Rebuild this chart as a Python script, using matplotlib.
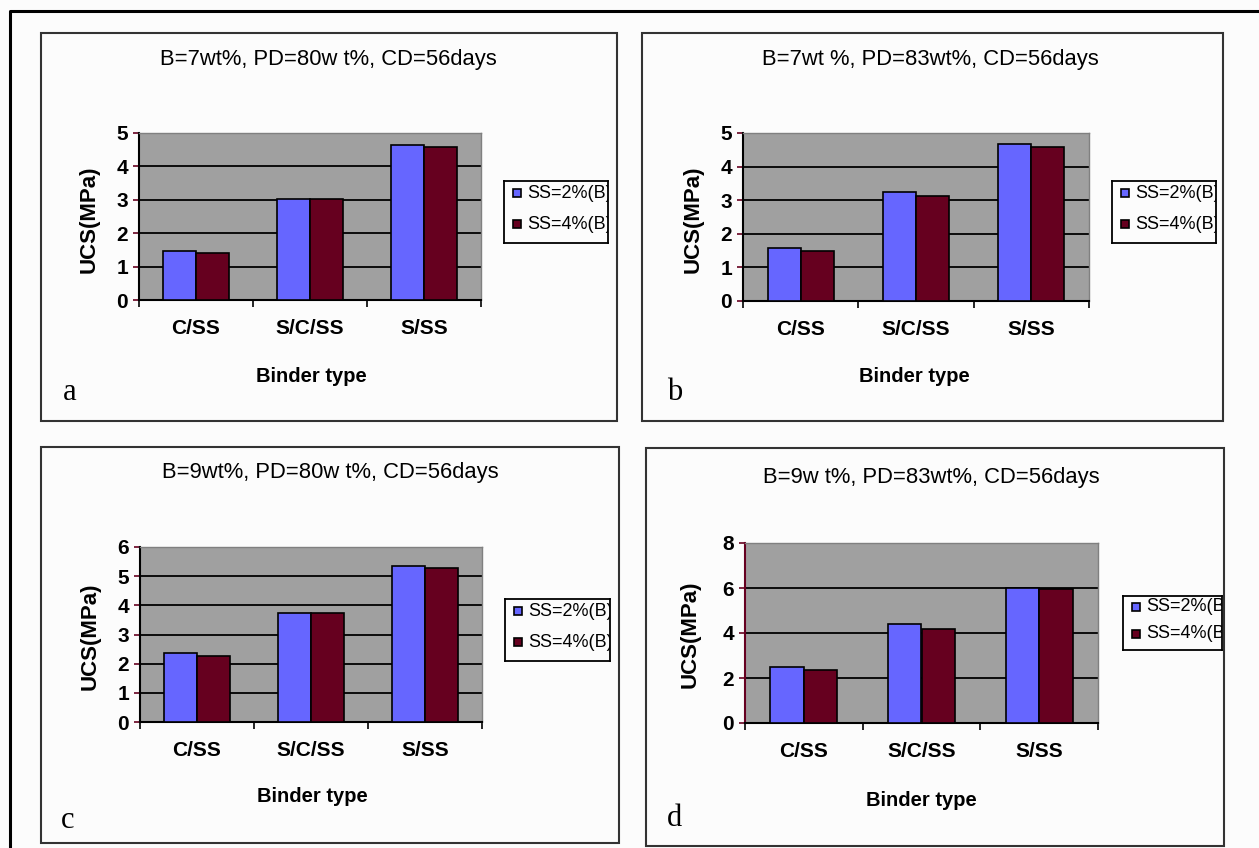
import numpy as np
import matplotlib
matplotlib.use('Agg')
import matplotlib.pyplot as plt
from matplotlib.patches import Rectangle
from matplotlib.lines import Line2D

W, H = 1259, 848

categories = ['C/SS', 'S/C/SS', 'S/SS']
series_labels = ['SS=2%(B)', 'SS=4%(B)']
titles = ['B=7wt%, PD=80w t%, CD=56days',
          'B=7wt %, PD=83wt%, CD=56days',
          'B=9wt%, PD=80w t%, CD=56days',
          'B=9w t%, PD=83wt%, CD=56days']
panel_letters = ['a', 'b', 'c', 'd']
ss2_a = [1.48, 3.03, 4.64]
ss4_a = [1.42, 3.03, 4.57]
ss2_b = [1.59, 3.25, 4.68]
ss4_b = [1.48, 3.13, 4.57]
ss2_c = [2.35, 3.75, 5.35]
ss4_c = [2.28, 3.75, 5.28]
ss2_d = [2.47, 4.41, 5.98]
ss4_d = [2.37, 4.18, 5.94]
y_max = [5, 5, 6, 8]
y_step = [1, 1, 1, 2]
xlabel = 'Binder type'
ylabel = 'UCS(MPa)'

ss2 = [ss2_a, ss2_b, ss2_c, ss2_d]
ss4 = [ss4_a, ss4_b, ss4_c, ss4_d]

# pixel layout of each panel: box, plot area, legend box, text anchors
layout = [
    dict(box=(41, 33, 617, 421), plot=(139, 133, 481, 300), leg=(504, 181, 608, 243),
         title=(328, 60), xl=(311, 376), yl=(89, 219), let=(70, 392), spine='black'),
    dict(box=(642, 33, 1223, 421), plot=(743, 133, 1089, 301), leg=(1112, 181, 1216, 243),
         title=(930, 60), xl=(914, 376), yl=(693, 219), let=(675, 392), spine='black'),
    dict(box=(41, 447, 619, 843), plot=(140, 547, 482, 722), leg=(505, 599, 610, 661),
         title=(330, 473), xl=(312, 797), yl=(90, 636), let=(68, 820), spine='black'),
    dict(box=(646, 448, 1224, 846), plot=(745, 543, 1098, 723), leg=(1123, 596, 1222, 650),
         title=(931, 478), xl=(921, 800), yl=(690, 634), let=(675, 818), spine='#660020'),
]

blue = '#6666ff'
red = '#66001f'
gray = '#a0a0a0'
sans = 'Liberation Sans'


def fx(x):
    return x / W


def fy(y):
    return 1 - y / H


def px_axes(l, t, r, b):
    return fig.add_axes([fx(l), fy(b), (r - l) / W, (b - t) / H])


fig = plt.figure(figsize=(W / 100, H / 100), dpi=100, facecolor='#fcfcfc')

# outer frame
fig.add_artist(Line2D([fx(10), fx(10), fx(1262)], [fy(850), fy(11), fy(11)],
                      transform=fig.transFigure, color='black', lw=2.2))

bw = 1 / 3.5
x = np.arange(len(categories))

for i, lay in enumerate(layout):
    l, t, r, b = lay['box']
    fig.add_artist(Rectangle((fx(l), fy(b)), (r - l) / W, (b - t) / H,
                             transform=fig.transFigure, fill=False,
                             edgecolor='#333333', lw=1.5))

    ax = px_axes(*lay['plot'])
    ax.set_facecolor(gray)
    ax.bar(x - bw / 2, ss2[i], bw, color=blue, edgecolor='black', lw=1.2, zorder=3)
    ax.bar(x + bw / 2, ss4[i], bw, color=red, edgecolor='black', lw=1.2, zorder=3)
    ax.set_xlim(-0.5, 2.5)
    ax.set_ylim(0, y_max[i])
    yt = np.arange(0, y_max[i] + 0.1, y_step[i])
    ax.set_yticks(yt)
    ax.set_yticklabels([str(int(v)) for v in yt])
    for v in yt[1:-1]:
        ax.axhline(v, color='black', lw=1.3, zorder=1)
    ax.set_xticks(x)
    ax.set_xticklabels(categories)
    ax.set_xticks([-0.5, 0.5, 1.5, 2.5], minor=True)
    ax.tick_params(axis='x', which='major', length=0, pad=14)
    ax.tick_params(axis='x', which='minor', length=5, width=1.2, color='black')
    ax.tick_params(axis='y', length=4, width=1.2, color='#660020', pad=4)
    for lab in ax.get_xticklabels() + ax.get_yticklabels():
        lab.set_fontfamily(sans)
        lab.set_fontweight('bold')
        lab.set_fontsize(15)
    for s in ['top', 'right']:
        ax.spines[s].set_color('#808080')
        ax.spines[s].set_linewidth(1.0)
    ax.spines['bottom'].set_color('black')
    ax.spines['bottom'].set_linewidth(1.5)
    ax.spines['left'].set_color(lay['spine'])
    ax.spines['left'].set_linewidth(1.5)

    tx, ty = lay['title']
    fig.text(fx(tx), fy(ty), titles[i], ha='center', va='center',
             fontfamily=sans, fontsize=15.8)
    tx, ty = lay['xl']
    fig.text(fx(tx), fy(ty), xlabel, ha='center', va='center',
             fontfamily=sans, fontweight='bold', fontsize=14.5)
    tx, ty = lay['yl']
    fig.text(fx(tx), fy(ty), ylabel, ha='center', va='center', rotation=90,
             fontfamily=sans, fontweight='bold', fontsize=16)
    tx, ty = lay['let']
    fig.text(fx(tx), fy(ty), panel_letters[i], ha='center', va='center',
             fontfamily='Liberation Serif', fontsize=22)

    # legend drawn as its own small framed axes so long labels get clipped
    lg = px_axes(*lay['leg'])
    lg.set_xlim(0, 1)
    lg.set_ylim(0, 1)
    lg.set_xticks([])
    lg.set_yticks([])
    lg.set_facecolor('#fcfcfc')
    for s in lg.spines.values():
        s.set_color('black')
        s.set_linewidth(1.3)
    lw_px = lay['leg'][2] - lay['leg'][0]
    for k, (lab, col) in enumerate(zip(series_labels, [blue, red])):
        yy = 0.8 - k * 0.5
        lg.plot([13 / lw_px], [yy], marker='s', ms=6, color=col,
                markeredgecolor='black', mew=1.2, clip_on=False)
        lg.text(23 / lw_px, yy, lab, ha='left', va='center', fontfamily=sans,
                fontsize=13, clip_on=True)

fig.savefig('out.png', dpi=100, facecolor=fig.get_facecolor())
